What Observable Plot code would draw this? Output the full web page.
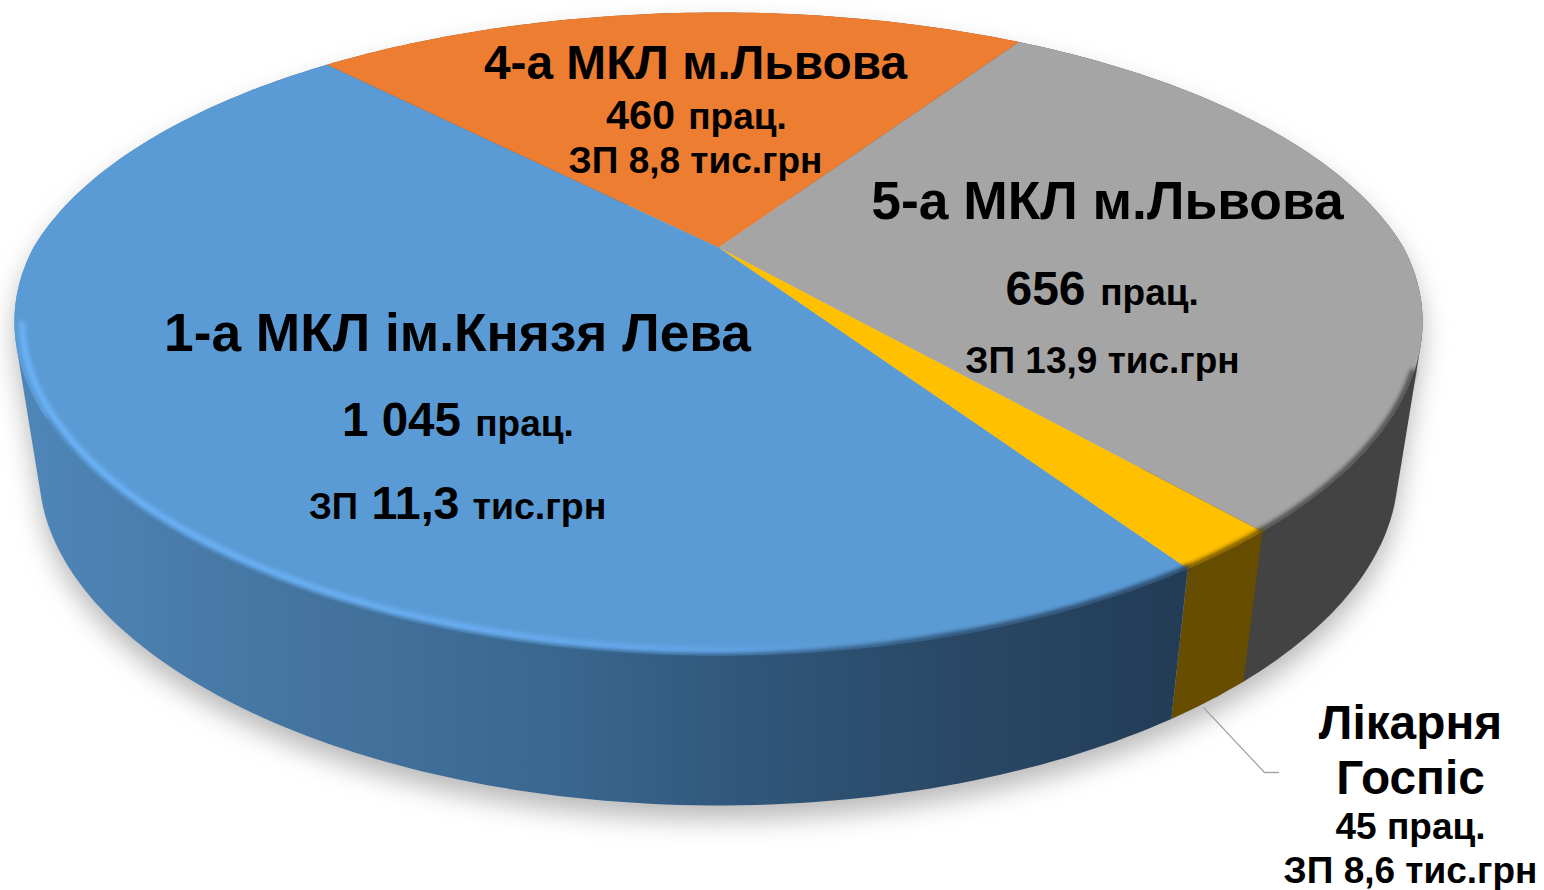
<!DOCTYPE html>
<html>
<head>
<meta charset="utf-8">
<script src="https://cdn.jsdelivr.net/npm/d3@7"></script>
<script src="https://cdn.jsdelivr.net/npm/@observablehq/plot@0.6"></script>
<style>html,body{margin:0;padding:0;background:#fff}svg{display:block}</style>
</head>
<body>
<div id="chart"></div>
<script>
// --- data, clockwise from the back of the pie ---
const categories = ["4-а МКЛ м.Львова", "5-а МКЛ м.Львова", "Лікарня Госпіс", "1-а МКЛ ім.Князя Лева"];
const workers = [460, 656, 45, 1045];
const workersText = ["460", "656", "45", "1 045"];
const wagesText = ["8,8", "13,9", "8,6", "11,3"];

// --- styles ---
const topColors = ["#ed7d31", "#a5a5a5", "#ffc000", "#5b9bd5"];
const sideColors = ["#8f4b1d", "#434343", "#664d00", "url(#blueSide)"];

// --- perspective view of the disc ---
const view = {cx: 718, apexY: 247, A: 685, a: 231.8, c: -0.269, shrink: 0.965, depth: 150, start: -42.8};
function topPoint(deg, r = 1) {
  const t = deg * Math.PI / 180, u = r * Math.sin(t), v = -r * Math.cos(t), den = 1 + view.c * v;
  const taper = 1 - (v > 0 ? 0.04 : 0.01) * v;
  return [view.cx + view.A * u * taper / den, (view.a * v + view.apexY) / den];
}
function bottomPoint(deg) {
  const [x, y] = topPoint(deg);
  return [view.cx + view.shrink * (x - view.cx), y + view.depth];
}
function arc(f, a0, a1) {
  const n = Math.max(2, Math.ceil(Math.abs(a1 - a0)));
  return d3.range(n + 1).map(i => f(a0 + (a1 - a0) * i / n));
}
const total = d3.sum(workers);
let acc = view.start;
const slices = workers.map((w, i) => {
  const a0 = acc; acc += w / total * 360;
  return {i, a0, a1: acc};
});
const asRows = pts => pts.map(([x, y]) => ({x, y}));
const topFace = s => asRows([[view.cx, view.apexY], ...arc(d => topPoint(d), s.a0, s.a1)]);
const sideFace = s => asRows(d3.polygonHull([...arc(d => topPoint(d), s.a0, s.a1), ...arc(bottomPoint, s.a0, s.a1)]));
const wholeHull = asRows(d3.polygonHull([...arc(d => topPoint(d), 0, 360), ...arc(bottomPoint, 0, 360)]));

// front part of the rim only
function rim(s, lo, hi, r) {
  const a0 = Math.max(s.a0, lo), a1 = Math.min(s.a1, hi);
  return a1 > a0 ? asRows(arc(d => topPoint(d, r), a0, a1)) : [];
}

// --- text runs ---
const labelRuns = [
  {text: categories[0], x: 695, y: 78, size: 47.8},
  {text: workersText[0], x: 640, y: 128, size: 41.5},
  {text: "прац.", x: 737, y: 128, size: 37},
  {text: `ЗП ${wagesText[0]} тис.грн`, x: 695, y: 172, size: 37},
  {text: categories[1], x: 1107, y: 218, size: 53.4},
  {text: workersText[1], x: 1045, y: 304, size: 48},
  {text: "прац.", x: 1149, y: 304, size: 37},
  {text: `ЗП ${wagesText[1]} тис.грн`, x: 1102, y: 372, size: 37},
  {text: categories[3], x: 457, y: 350, size: 53.3},
  {text: workersText[3], x: 401, y: 435, size: 47.5},
  {text: "прац.", x: 524, y: 435, size: 37},
  {text: "ЗП", x: 333, y: 518, size: 36.5},
  {text: wagesText[3], x: 415, y: 518, size: 46.5},
  {text: "тис.грн", x: 539, y: 518, size: 37.5},
  {text: "Лікарня", x: 1410, y: 738, size: 47.8},
  {text: "Госпіс", x: 1410, y: 793, size: 47.8},
  {text: `${workersText[2]} прац.`, x: 1410, y: 838, size: 37},
  {text: `ЗП ${wagesText[2]} тис.грн`, x: 1410, y: 882, size: 37}
];
const leader = [{x: 1203, y: 707}, {x: 1264, y: 772}, {x: 1278, y: 772}];

function defs() {
  const g = d3.create("svg:defs");
  const grad = (id, stops) => {
    const lg = g.append("linearGradient").attr("id", id).attr("gradientUnits", "userSpaceOnUse")
      .attr("x1", 0).attr("y1", 0).attr("x2", 1544).attr("y2", 0);
    stops.forEach(([o, c, op = 1]) => lg.append("stop").attr("offset", o).attr("stop-color", c).attr("stop-opacity", op));
  };
  grad("blueSide", [[0.015, "#4f86b8"], [0.2, "#44749f"], [0.36, "#3a6790"], [0.5, "#2f5578"], [0.62, "#2a4865"], [0.76, "#233d57"]]);
  grad("blueGlow", [[0.01, "#6cb4f8"], [0.3, "#6ab0f4"], [0.47, "#62a6e8"], [0.62, "#5b9bd5", 0]]);
  return g.node();
}

const line = (data, o) => Plot.line(data, {x: "x", y: "y", ...o});

const chart = Plot.plot({
  width: 1544,
  height: 890,
  margin: 0,
  style: {background: "#fff"},
  x: {domain: [0, 1544], range: [0, 1544], axis: null},
  y: {domain: [0, 890], range: [0, 890], axis: null},
  marks: [
    defs,
    // soft shadow
    line(wholeHull.map(d => ({x: d.x, y: d.y + 14})), {fill: "#8c8c8c", stroke: "none", fillOpacity: 0.6, imageFilter: "blur(13px)"}),
    // side walls
    ...slices.map(s => line(sideFace(s), {fill: sideColors[s.i], stroke: "none"})),
    // top faces
    ...slices.map(s => line(topFace(s), {fill: topColors[s.i], stroke: "none"})),
    // soft dark edge
    ...slices.map(s => line(rim(s, 112, 240, 0.998), {stroke: sideColors[s.i], strokeWidth: 5, imageFilter: "blur(2px)"})),
    // light bevel on the blue slice
    line(rim(slices[3], 150, 256, 0.99), {stroke: "url(#blueGlow)", strokeWidth: 6, imageFilter: "blur(2px)"}),
    // leader line
    line(leader, {stroke: "#a6a6a6", strokeWidth: 1.3}),
    // labels
    Plot.text(labelRuns, {
      x: "x", y: "y", text: "text", fontSize: "size",
      fontFamily: "Liberation Sans, Arial, sans-serif", fontWeight: "bold",
      fill: "#000", lineAnchor: "bottom", textAnchor: "middle"
    })
  ]
});
document.getElementById("chart").append(chart);
</script>
</body>
</html>
